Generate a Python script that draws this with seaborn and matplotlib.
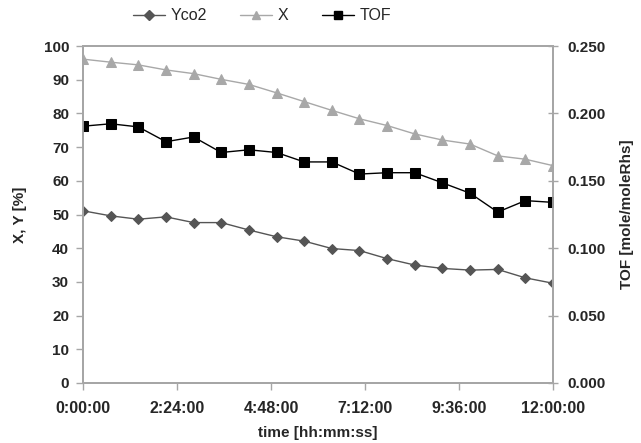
import numpy as np
import pandas as pd
import matplotlib
matplotlib.use("Agg")
import matplotlib.pyplot as plt
import seaborn as sns
from matplotlib.lines import Line2D

# ---- data ----
time_h = [i * 12 / 17 for i in range(18)]
yco2 = [51.1, 49.6, 48.6, 49.3, 47.6, 47.6, 45.4, 43.4, 42.1, 39.9,
        39.3, 36.9, 35.0, 34.0, 33.5, 33.7, 31.2, 29.6]
conv_x = [96.1, 95.2, 94.4, 92.9, 91.8, 90.1, 88.6, 86.1, 83.5, 80.9,
          78.4, 76.4, 73.9, 72.1, 70.9, 67.4, 66.4, 64.5]
tof = [0.1905, 0.1923, 0.190, 0.179, 0.1825, 0.171, 0.173, 0.171, 0.164, 0.164,
       0.155, 0.156, 0.156, 0.1485, 0.1408, 0.1268, 0.1353, 0.134]
x_ticks = [0, 2.4, 4.8, 7.2, 9.6, 12.0]
x_tick_labels = ["0:00:00", "2:24:00", "4:48:00", "7:12:00", "9:36:00", "12:00:00"]

df = pd.DataFrame({"t": time_h, "Yco2": yco2, "X": conv_x, "TOF": tof})

sns.set_style("white")
plt.rcParams['font.family'] = ['Liberation Sans', 'DejaVu Sans']

fig = plt.figure(figsize=(6.41, 4.43), dpi=100)
ax = fig.add_axes([83/641, 1-383/443, (553-83)/641, (383-46)/443])
ax2 = ax.twinx()

c_y, c_x, c_t = "#555555", "#a8a8a8", "#000000"
sns.lineplot(data=df, x="t", y="Yco2", ax=ax, color=c_y, marker="D", markersize=5.5,
             markeredgecolor=c_y, linewidth=1.0)
sns.lineplot(data=df, x="t", y="X", ax=ax, color=c_x, marker="^", markersize=7,
             markeredgecolor=c_x, linewidth=1.0)
sns.lineplot(data=df, x="t", y="TOF", ax=ax2, color=c_t, marker="s", markersize=6.5,
             markeredgecolor=c_t, linewidth=1.0)

ax.set_xlim(0, 12)
ax.set_ylim(0, 100)
ax2.set_ylim(0, 0.25)
ax.set_yticks(range(0, 101, 10))
ax2.set_yticks([0, 0.05, 0.10, 0.15, 0.20, 0.25])
ax2.set_yticklabels([f"{v:.3f}" for v in [0, 0.05, 0.10, 0.15, 0.20, 0.25]])
ax.set_xticks(x_ticks)
ax.set_xticklabels(x_tick_labels)

for a in (ax, ax2):
    for s in a.spines.values():
        s.set_color("#a6a6a6")
        s.set_linewidth(1.3)
    a.tick_params(direction="out", length=5, width=1, color="#a6a6a6",
                  labelsize=11, pad=4)
ax.tick_params(axis="x", bottom=True, pad=8, labelsize=11.5)
ax.tick_params(axis="y", left=True, pad=5)
ax2.tick_params(axis="y", right=True, direction="inout", length=7, pad=7)
for a in (ax, ax2):
    for lab in a.get_xticklabels() + a.get_yticklabels():
        lab.set_fontweight("bold")

ax.set_xlabel("time [hh:mm:ss]", fontsize=11, fontweight="bold", labelpad=7)
ax.set_ylabel("X, Y [%]", fontsize=11, fontweight="bold", labelpad=12)
ax2.set_ylabel("TOF [mole/moleRhs]", fontsize=11, fontweight="bold", labelpad=10)

handles = [
    Line2D([], [], color=c_y, marker="D", markersize=5, linewidth=1.0),
    Line2D([], [], color=c_x, marker="^", markersize=6, linewidth=1.0),
    Line2D([], [], color=c_t, marker="s", markersize=6, linewidth=1.0),
]
fig.legend(handles, ["Yco2", "X", "TOF"], loc="center", bbox_to_anchor=(262/641, 1-16/443),
           ncol=3, frameon=False, fontsize=11.5, handlelength=2.0, columnspacing=2.1,
           handletextpad=0.35)

fig.savefig("out.png", dpi=100)
